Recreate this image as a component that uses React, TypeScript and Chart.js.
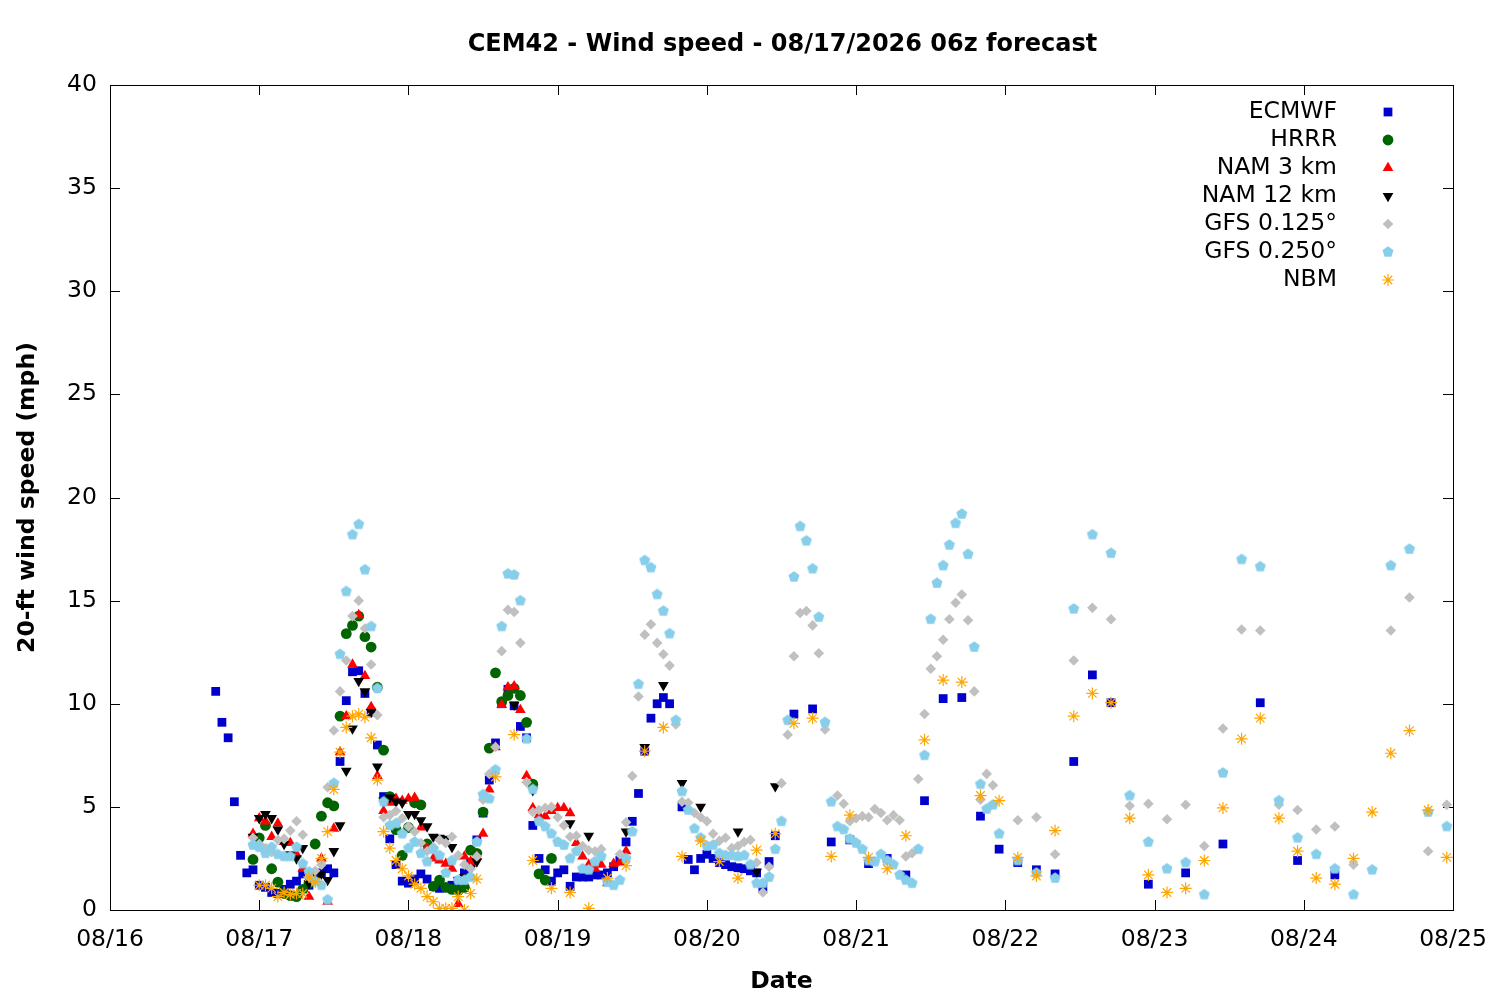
import { useEffect, useRef } from "react";
import { Chart, registerables } from "chart.js";
import { drawPoint } from "chart.js/helpers";

Chart.register(...registerables);

const FONT = "'DejaVu Sans', Verdana, sans-serif";
const FONT_SIZE = 23.5;

const titleText = "CEM42 - Wind speed - 08/17/2026 06z forecast";
const xTitle = "Date";
const yTitle = "20-ft wind speed (mph)";

// x is hours after 08/16 00z
const dayLabels = ["08/16", "08/17", "08/18", "08/19", "08/20", "08/21", "08/22", "08/23", "08/24", "08/25"];

type Pt = [number, number];

const ecmwf: Pt[] = [
  [17, 10.6], [18, 9.1], [19, 8.35], [20, 5.25], [21, 2.65], [22, 1.8], [23, 1.95], [24, 1.2],
  [25, 1.1], [26, 0.85], [27, 0.8], [28, 1.0], [29, 1.25], [30, 1.4], [31, 1.75], [32, 1.2],
  [33, 1.6], [34, 1.8], [35, 2.0], [36, 1.8], [37, 7.2], [38, 10.15], [39, 11.55], [40, 11.6],
  [41, 10.5], [42, 9.6], [43, 8.0], [44, 5.5], [45, 3.45], [46, 2.2], [47, 1.4], [48, 1.3],
  [49, 1.5], [50, 1.75], [51, 1.5], [52, 1.15], [53, 1.05], [54, 1.1], [55, 1.2], [56, 1.4],
  [57, 1.8], [58, 2.3], [59, 3.4], [60, 4.7], [61, 6.3], [62, 8.1], [63, 10.0], [64, 10.7],
  [65, 9.9], [66, 8.9], [67, 8.35], [68, 4.1], [69, 2.5], [70, 1.95], [71, 1.4], [72, 1.8],
  [73, 1.95], [74, 1.15], [75, 1.6], [76, 1.6], [77, 1.6], [78, 1.7], [79, 1.7], [80, 1.8],
  [81, 2.1], [82, 2.4], [83, 3.3], [84, 4.3], [85, 5.65], [86, 7.7], [87, 9.3], [88, 10.0],
  [89, 10.3], [90, 10.0], [92, 5.0], [93, 2.45], [94, 1.95], [95, 2.5], [96, 2.7], [97, 2.5],
  [98, 2.3], [99, 2.2], [100, 2.1], [101, 2.05], [102, 2.0], [103, 1.9], [104, 1.8], [105, 1.05],
  [106, 2.35], [107, 3.6], [110, 9.5], [113, 9.75], [116, 3.3], [119, 3.4], [122, 2.25],
  [125, 2.5], [128, 1.7], [131, 5.3], [134, 10.25], [137, 10.3], [140, 4.55], [143, 2.95],
  [146, 2.3], [149, 1.95], [152, 1.75], [155, 7.2], [158, 11.4], [161, 10.05], [167, 1.25],
  [173, 1.8], [179, 3.2], [185, 10.05], [191, 2.4], [197, 1.7],
];

const hrrr: Pt[] = [
  [23, 2.45], [24, 3.5], [25, 4.1], [26, 2.0], [27, 1.35], [28, 0.8], [29, 0.7], [30, 0.65],
  [31, 1.0], [32, 1.3], [33, 3.2], [34, 4.55], [35, 5.2], [36, 5.05], [37, 9.4], [38, 13.4],
  [39, 13.8], [40, 14.25], [41, 13.25], [42, 12.75], [43, 10.8], [44, 7.75], [45, 5.5],
  [46, 3.9], [47, 2.65], [48, 4.0], [49, 5.2], [50, 5.1], [51, 3.2], [52, 1.15], [53, 1.45],
  [54, 1.1], [55, 1.0], [56, 0.95], [57, 1.1], [58, 2.9], [59, 2.75], [60, 4.75], [61, 7.85],
  [62, 11.5], [63, 10.1], [64, 10.4], [65, 10.75], [66, 10.4], [67, 9.1], [68, 6.1], [69, 1.75],
  [70, 1.45], [71, 2.5],
];

const nam3: Pt[] = [
  [23, 3.7], [24, 4.45], [25, 4.3], [26, 3.55], [27, 4.2], [28, 3.3], [29, 3.25], [30, 2.7],
  [31, 2.0], [32, 0.65], [33, 1.5], [34, 2.5], [35, 0.4], [36, 3.95], [37, 7.65], [38, 9.4],
  [39, 11.9], [40, 14.3], [41, 11.35], [42, 9.85], [43, 6.5], [44, 4.8], [45, 5.2], [46, 5.4],
  [47, 5.3], [48, 5.4], [49, 5.45], [50, 4.0], [51, 3.0], [52, 2.5], [53, 2.4], [54, 2.25],
  [55, 2.0], [56, 0.3], [57, 2.6], [58, 2.35], [59, 2.6], [60, 3.7], [61, 5.85], [62, 7.9],
  [63, 9.95], [64, 10.8], [65, 10.85], [66, 9.7], [67, 6.5], [68, 4.95], [69, 4.6], [70, 4.55],
  [71, 4.8], [72, 4.95], [73, 4.95], [74, 4.7], [75, 3.25], [76, 2.6], [77, 2.2], [78, 2.0],
  [79, 2.2], [80, 1.3], [81, 2.25], [82, 2.3], [83, 2.85],
];

const nam12: Pt[] = [
  [23, 3.55], [24, 4.45], [25, 4.65], [26, 4.45], [27, 3.9], [28, 3.2], [29, 2.7], [30, 2.5],
  [31, 3.0], [32, 1.3], [33, 1.5], [34, 1.75], [35, 1.45], [36, 2.85], [37, 4.1], [38, 6.75],
  [39, 8.8], [40, 11.1], [41, 10.6], [42, 9.6], [43, 6.95], [44, 5.3], [45, 5.45], [46, 5.25],
  [47, 5.2], [48, 4.65], [49, 4.65], [50, 4.35], [51, 4.05], [52, 3.55], [53, 3.5], [54, 3.45],
  [55, 3.05], [56, 1.45], [57, 1.6], [58, 2.0], [59, 2.35], [65, 9.95], [68, 5.8], [74, 4.2],
  [77, 3.6], [83, 3.8], [86, 7.9], [89, 10.9], [92, 6.15], [95, 5.0], [101, 3.8], [104, 1.85],
  [107, 6.0],
];

const gfs0125: Pt[] = [
  [23, 3.5], [24, 3.2], [25, 3.0], [26, 2.8], [27, 3.4], [28, 3.45], [29, 3.85], [30, 4.3],
  [31, 3.65], [32, 1.6], [33, 1.9], [34, 2.2], [35, 5.95], [36, 8.7], [37, 10.6], [38, 12.1],
  [39, 14.25], [40, 15.0], [41, 13.65], [42, 11.9], [43, 9.45], [44, 4.5], [45, 4.6], [46, 4.8],
  [47, 4.45], [48, 4.05], [49, 3.8], [50, 3.25], [51, 2.85], [52, 3.05], [53, 3.4], [54, 3.25],
  [55, 3.55], [56, 2.65], [57, 2.2], [58, 2.0], [59, 2.6], [60, 5.35], [61, 6.6], [62, 7.9],
  [63, 12.55], [64, 14.55], [65, 14.45], [66, 12.95], [67, 6.2], [68, 4.75], [69, 4.85],
  [70, 4.95], [71, 5.0], [72, 4.5], [73, 4.1], [74, 3.55], [75, 3.6], [76, 3.1], [77, 2.9],
  [78, 2.85], [79, 2.95], [82, 2.7], [83, 4.25], [84, 6.5], [85, 10.35], [86, 13.35],
  [87, 13.85], [88, 12.95], [89, 12.4], [90, 11.85], [91, 9.0], [92, 5.25], [93, 5.2], [94, 4.7],
  [95, 4.5], [96, 4.3], [97, 3.7], [98, 3.35], [99, 3.5], [100, 3.0], [101, 3.1], [102, 3.3],
  [103, 3.4], [104, 2.3], [105, 0.85], [106, 2.1], [108, 6.15], [109, 8.5], [110, 12.3],
  [111, 14.4], [112, 14.5], [113, 13.8], [114, 12.45], [115, 8.75], [117, 5.55], [118, 5.15],
  [119, 4.3], [120, 4.45], [121, 4.55], [122, 4.5], [123, 4.9], [124, 4.7], [125, 4.35],
  [126, 4.6], [127, 4.35], [128, 2.6], [129, 2.75], [130, 6.35], [131, 9.5], [132, 11.7],
  [133, 12.3], [134, 13.1], [135, 14.1], [136, 14.9], [137, 15.3], [138, 14.05], [139, 10.6],
  [140, 5.35], [141, 6.6], [142, 6.05], [146, 4.35], [149, 4.5], [152, 2.7], [155, 12.1],
  [158, 14.65], [161, 14.1], [164, 5.05], [167, 5.15], [170, 4.4], [173, 5.1], [176, 3.1],
  [179, 8.8], [182, 13.6], [185, 13.55], [188, 5.1], [191, 4.85], [194, 3.9], [197, 4.05],
  [200, 2.2], [206, 13.55], [209, 15.15], [212, 2.85], [215, 5.1],
];

const gfs0250: Pt[] = [
  [23, 3.15], [24, 3.05], [25, 2.75], [26, 3.05], [27, 2.7], [28, 2.6], [29, 2.6], [30, 3.05],
  [31, 2.25], [32, 1.85], [33, 1.4], [34, 1.2], [35, 0.5], [36, 6.15], [37, 12.4], [38, 15.45],
  [39, 18.2], [40, 18.7], [41, 16.5], [42, 13.75], [43, 10.75], [44, 5.25], [45, 4.1], [46, 4.2],
  [47, 3.7], [48, 3.0], [49, 3.3], [50, 2.75], [51, 2.35], [52, 2.95], [53, 2.65], [54, 1.8],
  [55, 2.4], [56, 1.45], [57, 1.45], [58, 1.6], [59, 3.3], [60, 5.6], [61, 5.4], [62, 6.8],
  [63, 13.75], [64, 16.3], [65, 16.25], [66, 15.0], [67, 8.3], [68, 5.85], [69, 4.3], [70, 4.05],
  [71, 3.7], [72, 3.3], [73, 3.15], [74, 2.5], [75, 2.85], [76, 2.0], [77, 1.95], [78, 2.35],
  [79, 2.6], [80, 1.35], [81, 1.2], [82, 1.45], [83, 2.5], [84, 3.8], [85, 10.95], [86, 16.95],
  [87, 16.6], [88, 15.3], [89, 14.5], [90, 13.4], [91, 9.2], [92, 5.75], [93, 4.85], [94, 3.95],
  [95, 3.5], [96, 3.1], [97, 3.15], [98, 2.75], [99, 2.65], [100, 2.65], [101, 2.6], [102, 2.65],
  [103, 2.2], [104, 1.3], [105, 1.3], [106, 1.6], [107, 2.95], [108, 4.3], [109, 9.2],
  [110, 16.15], [111, 18.6], [112, 17.9], [113, 16.55], [114, 14.2], [115, 9.1], [116, 5.25],
  [117, 4.05], [118, 3.9], [119, 3.45], [120, 3.25], [121, 2.95], [122, 2.4], [123, 2.35],
  [124, 2.7], [125, 2.4], [126, 2.2], [127, 1.7], [128, 1.45], [129, 1.3], [130, 2.95],
  [131, 7.5], [132, 14.1], [133, 15.85], [134, 16.7], [135, 17.7], [136, 18.75], [137, 19.2],
  [138, 17.25], [139, 12.75], [140, 6.1], [141, 4.9], [142, 5.1], [143, 3.7], [146, 2.4],
  [149, 1.8], [152, 1.55], [155, 14.6], [158, 18.2], [161, 17.3], [164, 5.55], [167, 3.3],
  [170, 2.0], [173, 2.3], [176, 0.75], [179, 6.65], [182, 17.0], [185, 16.65], [188, 5.3],
  [191, 3.5], [194, 2.7], [197, 2.0], [200, 0.75], [203, 1.95], [206, 16.7], [209, 17.5],
  [212, 4.75], [215, 4.05],
];

const nbm: Pt[] = [
  [24, 1.2], [25, 1.2], [26, 1.05], [27, 0.65], [28, 0.85], [29, 0.75], [30, 0.8], [31, 0.8],
  [32, 1.6], [33, 1.35], [34, 2.5], [35, 3.8], [36, 5.85], [37, 7.65], [38, 8.85], [39, 9.4],
  [40, 9.5], [41, 9.35], [42, 8.35], [43, 6.3], [44, 3.8], [45, 3.0], [46, 2.4], [47, 2.0],
  [48, 1.65], [49, 1.25], [50, 1.05], [51, 0.65], [52, 0.4], [53, 0.08], [54, 0.08], [55, 0.08],
  [56, 0.65], [57, 0.0], [58, 0.8], [59, 1.5], [62, 6.45], [65, 8.5], [68, 2.4], [71, 1.05],
  [74, 0.85], [77, 0.08], [80, 1.55], [83, 2.15], [86, 7.7], [89, 8.85], [92, 2.6], [95, 3.35],
  [98, 2.35], [101, 1.55], [104, 2.9], [107, 3.7], [110, 9.05], [113, 9.3], [116, 2.6],
  [119, 4.6], [122, 2.55], [125, 2.0], [128, 3.6], [131, 8.25], [134, 11.15], [137, 11.05],
  [140, 5.55], [143, 5.3], [146, 2.55], [149, 1.65], [152, 3.85], [155, 9.4], [158, 10.5],
  [161, 10.05], [164, 4.45], [167, 1.7], [170, 0.85], [173, 1.05], [176, 2.4], [179, 4.95],
  [182, 8.3], [185, 9.3], [188, 4.45], [191, 2.85], [194, 1.55], [197, 1.25], [200, 2.5],
  [203, 4.75], [206, 7.6], [209, 8.7], [212, 4.85], [215, 2.55],
];

function makePentagon(color: string, r: number) {
  const c = document.createElement("canvas");
  const s = Math.ceil(r * 2) + 2;
  c.width = s;
  c.height = s;
  const ctx = c.getContext("2d")!;
  ctx.fillStyle = color;
  ctx.beginPath();
  for (let k = 0; k < 5; k++) {
    const a = -Math.PI / 2 + (k * 2 * Math.PI) / 5;
    ctx.lineTo(s / 2 + r * Math.cos(a), s / 2 + r * Math.sin(a));
  }
  ctx.closePath();
  ctx.fill();
  return c;
}

// inward ticks on all four sides plus the border box, gnuplot style
const framePlugin = {
  id: "frame",
  beforeDatasetsDraw(chart: any) {
    const { ctx, chartArea } = chart;
    const { left, right, top, bottom } = chartArea;
    const x = chart.scales.x;
    const y = chart.scales.y;
    const len = 10;
    ctx.save();
    ctx.strokeStyle = "#000";
    ctx.lineWidth = 1;
    ctx.beginPath();
    for (const t of x.ticks) {
      const px = Math.round(x.getPixelForValue(t.value)) + 0.5;
      ctx.moveTo(px, bottom);
      ctx.lineTo(px, bottom - len);
      ctx.moveTo(px, top);
      ctx.lineTo(px, top + len);
    }
    for (const t of y.ticks) {
      const py = Math.round(y.getPixelForValue(t.value)) + 0.5;
      ctx.moveTo(left, py);
      ctx.lineTo(left + len, py);
      ctx.moveTo(right, py);
      ctx.lineTo(right - len, py);
    }
    ctx.stroke();
    ctx.strokeRect(Math.round(left) + 0.5, Math.round(top) + 0.5, Math.round(right - left), Math.round(bottom - top));
    ctx.restore();
  },
};

// legend with text right-aligned and the marker to its right
const keyPlugin = {
  id: "key",
  afterDatasetsDraw(chart: any) {
    const { ctx, chartArea } = chart;
    ctx.save();
    ctx.font = `${FONT_SIZE}px ${FONT}`;
    ctx.textAlign = "right";
    ctx.textBaseline = "middle";
    chart.data.datasets.forEach((ds: any, i: number) => {
      const yy = chartArea.top + 27 + i * 28;
      ctx.fillStyle = "#000";
      ctx.fillText(ds.label, chartArea.right - 116, yy);
      ctx.fillStyle = ds.pointBackgroundColor;
      ctx.strokeStyle = ds.pointBorderColor;
      ctx.lineWidth = ds.pointBorderWidth;
      drawPoint(
        ctx,
        {
          pointStyle: ds.pointStyle,
          radius: ds.pointRadius,
          rotation: ds.pointRotation || 0,
          borderWidth: ds.pointBorderWidth,
        },
        chartArea.right - 65,
        yy
      );
    });
    ctx.restore();
  },
};

const titlePlugin = {
  id: "plotTitle",
  afterDraw(chart: any) {
    const { ctx, chartArea } = chart;
    ctx.save();
    ctx.font = `bold 24px ${FONT}`;
    ctx.fillStyle = "#000";
    ctx.textAlign = "center";
    ctx.textBaseline = "middle";
    ctx.fillText(titleText, (chartArea.left + chartArea.right) / 2 + 1, 45);
    ctx.restore();
  },
};

export default function App() {
  const canvasRef = useRef<HTMLCanvasElement | null>(null);

  useEffect(() => {
    if (!canvasRef.current) return;
    Chart.defaults.font.family = FONT;
    Chart.defaults.font.size = FONT_SIZE;
    Chart.defaults.color = "#000";

    const series = [
      { label: "ECMWF", pts: ecmwf, color: "#0000cd", style: "rect", radius: 6.2, border: 0, rotation: 0 },
      { label: "HRRR", pts: hrrr, color: "#006400", style: "circle", radius: 5.4, border: 0, rotation: 0 },
      { label: "NAM 3 km", pts: nam3, color: "#ff0000", style: "triangle", radius: 6.2, border: 0, rotation: 0 },
      { label: "NAM 12 km", pts: nam12, color: "#000000", style: "triangle", radius: 6.2, border: 0, rotation: 180 },
      { label: "GFS 0.125°", pts: gfs0125, color: "#c0c0c0", style: "rectRot", radius: 5.3, border: 0, rotation: 0 },
      { label: "GFS 0.250°", pts: gfs0250, color: "#87ceeb", style: "pentagon", radius: 5.8, border: 0, rotation: 0 },
      { label: "NBM", pts: nbm, color: "#ffa500", style: "star", radius: 6, border: 1.2, rotation: 0 },
    ];

    const datasets = series.map((s, i) => ({
      label: s.label,
      data: s.pts.map(([h, v]) => ({ x: h, y: v })),
      pointStyle: s.style === "pentagon" ? makePentagon(s.color, s.radius) : s.style,
      pointRadius: s.radius,
      pointHoverRadius: s.radius,
      pointRotation: s.rotation,
      pointBackgroundColor: s.color,
      pointBorderColor: s.color,
      pointBorderWidth: s.border,
      showLine: false,
      order: series.length - i,
    }));

    const chart = new Chart(canvasRef.current, {
      type: "scatter",
      data: { datasets: datasets as any },
      options: {
        animation: false,
        responsive: true,
        maintainAspectRatio: false,
        layout: { padding: { top: 85, right: 47, left: 0, bottom: 0 } },
        plugins: {
          legend: { display: false },
          tooltip: { enabled: false },
          title: { display: false },
        },
        scales: {
          x: {
            type: "linear",
            min: 0,
            max: 216,
            ticks: {
              stepSize: 24,
              autoSkip: false,
              maxRotation: 0,
              padding: 16,
              callback: (v: any) => dayLabels[Math.round(Number(v) / 24)],
            },
            grid: { display: false, drawTicks: false },
            border: { display: false },
            title: {
              display: true,
              text: xTitle,
              font: { weight: "bold", size: FONT_SIZE },
              padding: { top: 0, bottom: 4 },
            },
            afterFit: (s: any) => {
              s.height = 90;
              s.paddingLeft = 0;
              s.paddingRight = 0;
            },
          },
          y: {
            min: 0,
            max: 40,
            ticks: { stepSize: 5, padding: 13 },
            grid: { display: false, drawTicks: false },
            border: { display: false },
            title: {
              display: true,
              text: yTitle,
              font: { weight: "bold", size: FONT_SIZE },
              padding: { top: 14, bottom: 0 },
            },
            afterFit: (s: any) => {
              s.width = 110;
              s.paddingTop = 0;
              s.paddingBottom = 0;
            },
          },
        },
      } as any,
      plugins: [framePlugin, keyPlugin, titlePlugin],
    });

    return () => {
      chart.destroy();
    };
  }, []);

  return (
    <div style={{ position: "absolute", left: 0, top: 0, width: 1500, height: 1000, background: "#fff" }}>
      <canvas ref={canvasRef} />
    </div>
  );
}
